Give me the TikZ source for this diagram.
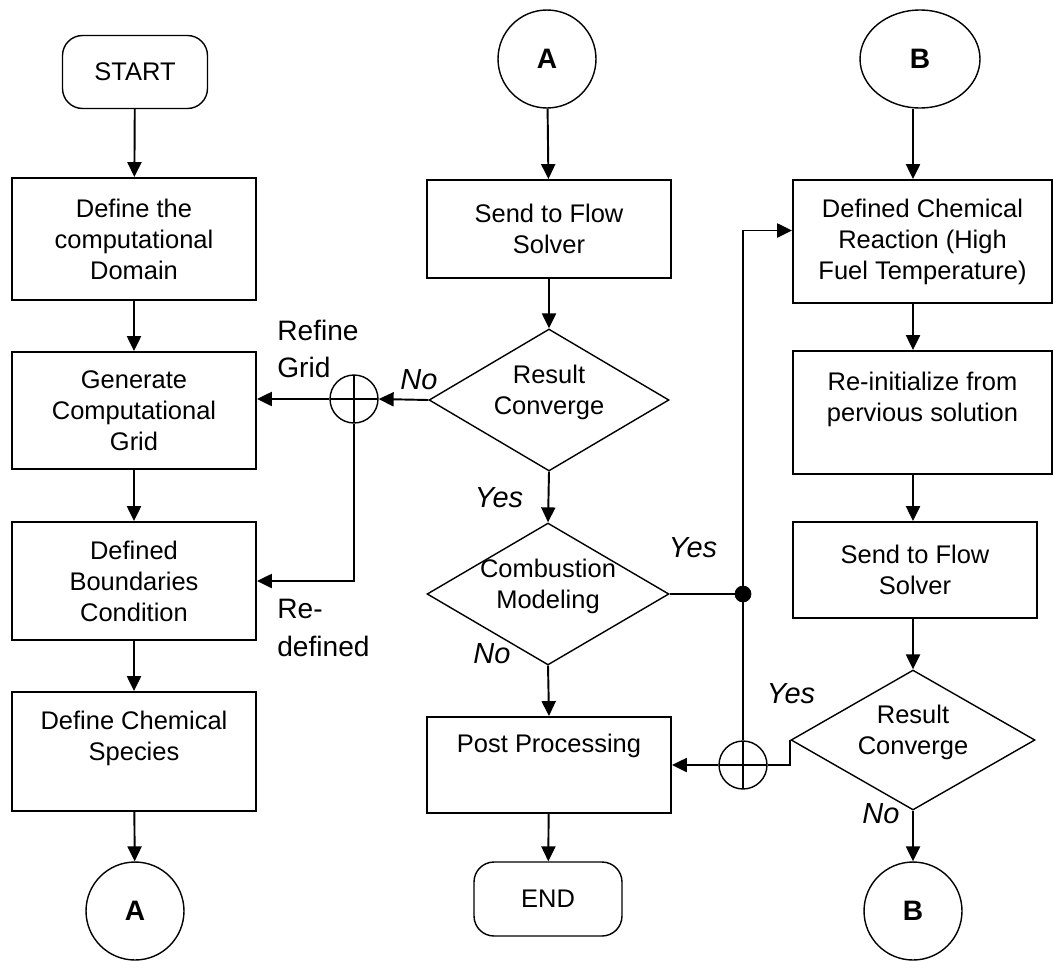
\documentclass[tikz,border=0pt]{standalone}
\usepackage{fontspec}
\setmainfont{Liberation Sans}
\usetikzlibrary{arrows.meta,shapes.geometric}
\begin{document}
\begin{tikzpicture}[x=.02cm, y=-.02cm, font=\fontsize{14.5}{17.6}\selectfont,
  line/.style={line width=1.1pt},
  arr/.style={line width=1.1pt,-{Triangle[length=8.5pt,width=8pt]}},
  procbox/.style={draw, line width=1.1pt, align=center, inner sep=0pt, minimum width=4.88cm},
  termbox/.style={draw, line width=.8pt, rectangle, rounded corners=.4cm, minimum width=2.9cm, minimum height=1.46cm},
  decbox/.style={draw, line width=.8pt, diamond, inner sep=0pt, shape aspect=1.7},
  conbox/.style={draw, line width=.8pt, circle, minimum size=1.96cm, inner sep=0pt, font=\fontsize{16}{18}\selectfont\bfseries},
  sumj/.style={draw, line width=.8pt, circle, minimum size=.96cm, inner sep=0pt,
    path picture={\draw[line width=.8pt] (path picture bounding box.north) -- (path picture bounding box.south)
      (path picture bounding box.west) -- (path picture bounding box.east);}},
  lbl/.style={font=\fontsize{16.5}{20}\selectfont\itshape, inner sep=0pt},
  note/.style={font=\fontsize{16}{21.5}\selectfont, align=left, inner sep=0pt, anchor=west},
]
\useasboundingbox (0,0) rectangle (1054,960);

% left column
\node[termbox] (start) at (135,72) {START};
\node[procbox, minimum height=2.44cm] (dom) at (134,239) {Define the\\computational\\Domain};
\node[procbox, minimum height=2.34cm] (grid) at (134,410.5) {Generate\\Computational\\Grid};
\node[procbox, minimum height=2.36cm] (bound) at (134,581) {Defined\\Boundaries\\Condition};
\node[procbox, minimum height=2.38cm] (spec) at (134,751.5) {Define Chemical\\Species\\~};
\node[conbox] (conA2) at (135,911) {A};

% middle column
\node[conbox] (conA1) at (547,59) {A};
\node[procbox, minimum height=1.96cm] (send1) at (549,229) {Send to Flow\\Solver};
\node[decbox, minimum width=4.8cm, minimum height=2.84cm,
  label={[align=center,yshift=.16cm]center:Result\\Converge}] (rc1) at (549,400) {};
\node[decbox, minimum width=4.84cm, minimum height=2.84cm,
  label={[align=center,yshift=.16cm]center:Combustion\\Modeling}] (comb) at (548,594) {};
\node[procbox, minimum height=1.92cm] (post) at (549,765) {Post Processing\\[7pt]~};
\node[termbox, minimum width=2.96cm, minimum height=1.48cm] (end) at (548,899) {END};

% right column
\node[conbox, ellipse, minimum width=2.4cm, minimum height=1.96cm] (conB1) at (920,59) {B};
\node[procbox, minimum width=5.18cm, minimum height=2.46cm] (reac) at (922.5,241.5) {Defined Chemical\\Reaction (High\\Fuel Temperature)};
\node[procbox, minimum width=5.18cm, minimum height=2.46cm] (reinit) at (922.5,412.5) {Re-initialize from\\pervious solution\\~};
\node[procbox, minimum height=1.92cm] (send2) at (915,570) {Send to Flow\\Solver};
\node[decbox, minimum width=4.88cm, minimum height=2.8cm,
  label={[align=center,yshift=.16cm]center:Result\\Converge}] (rc2) at (913,740) {};
\node[conbox] (conB2) at (913,911) {B};

% junctions
\node[sumj] (j1) at (354,399) {};
\node[sumj] (j2) at (743,765) {};
\node[draw, fill, circle, minimum size=.32cm, inner sep=0pt] (dot) at (743,594) {};

% flow
\draw[arr] (start) -- (dom);
\draw[arr] (dom) -- (grid);
\draw[arr] (grid) -- (bound);
\draw[arr] (bound) -- (spec);
\draw[arr] (spec) -- (conA2);
\draw[arr] (conA1) -- (send1);
\draw[arr] (send1) -- (rc1.north);
\draw[arr] (rc1.south) -- (comb.north);
\draw[arr] (comb.south) -- (post.north);
\draw[arr] (post) -- (end);
\draw[arr] (conB1.south -| rc2) -- (reac.north -| rc2);
\draw[arr] (reac.south -| rc2) -- (reinit.north -| rc2);
\draw[arr] (reinit.south -| rc2) -- (send2.north -| rc2);
\draw[arr] (send2.south -| rc2) -- (rc2.north);
\draw[arr] (rc2.south) -- (conB2);

% loops
\draw[arr] (rc1.west) -- (j1.east);
\draw[arr] (j1.west) -- (j1.west -| grid.east);
\draw[arr] (j1.south) |- (bound.east);
\draw[line] (comb.east) -- (dot);
\draw[line] (j2.north) -- (dot);
\draw[arr] (dot) |- ([yshift=.22cm]reac.west);
\draw[line] (rc2.west) |- (j2.east);
\draw[arr] (j2.west) -- (post.east);

% labels
\node[note] (refine) at (277,349) {Refine\\Grid};
\node[note] (redef) at (277,628) {Re-\\defined};
\node[lbl] (no1) at (419,380) {No};
\node[lbl] (yes1) at (499,498) {Yes};
\node[lbl] (yes2) at (693,548) {Yes};
\node[lbl] (no2) at (492,654) {No};
\node[lbl] (yes3) at (791,694) {Yes};
\node[lbl] (no3) at (881,814) {No};
\end{tikzpicture}
\end{document}
